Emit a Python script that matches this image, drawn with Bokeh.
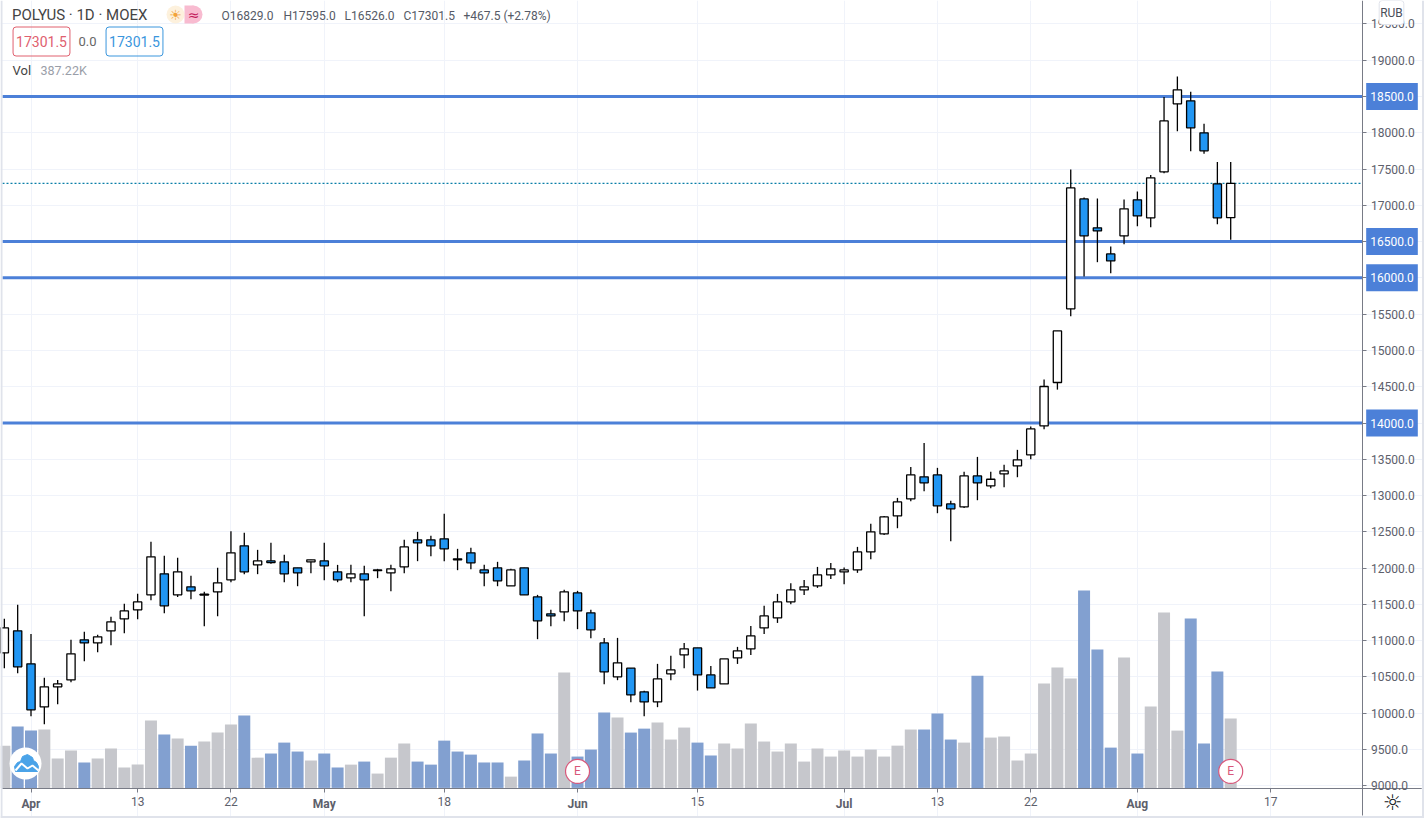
from bokeh.plotting import figure
from bokeh.models import Range1d, FixedTicker, Span, Label, NumeralTickFormatter, LinearAxis
from bokeh.core.properties import value
from bokeh.embed import file_html
from bokeh.resources import INLINE

first_bar = -2
opens = [10833,11136,10681,10088,10364,10460,11012,10970,11136,11301,11425,11632,11921,11632,11742,11627,11673,11839,12307,12045,12100,12087,12004,12087,12100,11949,11866,11921,11967,11935,12018,12390,12390,12404,12128,12211,11976,12004,11756,12004,11604,11370,11398,11659,11384,10970,10502,10621,10295,10157,10543,10805,10901,10529,10405,10763,10887,11176,11314,11535,11700,11755,11907,11948,11976,12224,12472,12720,12954,13258,13285,12885,12844,13271,13134,13299,13409,13561,13960,14558,15573,17088,16689,16330,16579,17075,16827,17461,18398,18439,17998,17295,16829]
highs = [11301,11494,11094,10488,10460,11012,11122,11081,11329,11508,11646,12362,12169,12142,11894,11673,12004,12509,12486,12252,12349,12183,12004,12114,12349,12045,12045,12032,11990,12045,12390,12500,12445,12748,12266,12280,12045,12087,11990,12004,11632,11425,11701,11687,11425,11039,11039,10621,10309,10681,10791,10970,10901,10653,10749,10915,11204,11480,11645,11792,11838,12017,12072,12008,12293,12610,12720,12968,13395,13726,13382,12927,13327,13533,13327,13423,13630,13951,14600,15269,17493,17107,17093,16432,17079,17190,17419,18494,18774,18563,18122,17598,17595]
lows = [10621,10552,9960,9849,10125,10428,10718,10842,10938,11104,11297,11558,11379,11604,11572,11200,11338,11806,11917,11917,12059,11806,11751,11931,11834,11806,11806,11338,11862,11682,11931,12096,12165,12096,11972,11986,11751,11751,11756,11632,11021,11200,11269,11159,11035,10401,10456,10153,9960,10084,10456,10621,10313,10350,10405,10680,10804,11094,11245,11503,11631,11728,11852,11778,11935,12123,12458,12550,12922,13060,12757,12371,12830,12936,13101,13115,13253,13501,13915,14460,15471,16018,16216,16064,16464,16712,16698,17442,18021,17745,17709,16739,16526]
closes = [11177,10640,10047,10364,10405,10819,10970,11053,11260,11411,11535,12156,11480,11949,11687,11641,11797,12211,11949,12100,12077,11921,11935,12114,12032,11839,11921,11839,11976,11990,12293,12349,12307,12266,12114,12073,11935,11825,11976,11632,11274,11342,11673,11411,11150,10571,10695,10254,10157,10474,10598,10888,10529,10350,10749,10860,11066,11342,11535,11700,11742,11907,11990,11976,12224,12500,12706,12913,13285,13175,12858,12817,13271,13175,13225,13340,13492,13919,14503,15269,17240,16579,16647,16234,16951,16854,17378,18163,18591,18067,17750,16827,17301.5]
volumes_k = [236,343,320,326,164,209,142,164,220,114,130,376,298,276,236,259,309,354,404,169,192,253,203,153,192,114,130,147,80,169,248,147,130,264,203,186,142,142,63,153,304,192,644,175,214,421,393,309,331,365,270,337,253,181,248,220,359,259,203,248,147,220,175,209,175,214,175,236,326,326,415,270,253,627,281,287,153,192,583,672,611,1102,773,225,728,192,454,979,320,946,248,650,387.22]

day_ticks = [8, 15, 31, 50, 68, 75, 93]
day_names = ["13", "22", "18", "15", "13", "22", "17"]
month_ticks = [0, 22, 41, 61, 83]
month_names = ["Apr", "May", "Jun", "Jul", "Aug"]
price_ticks = [9000 + 500 * k for k in range(22)]
levels = [18500, 16500, 16000, 14000]
last_price = 17301.5
earnings_bars = [41, 90]
earnings_price = [9200, 9200]

WIDTH, HEIGHT = 1424, 818
PX_PER_BAR, PX_BAR0 = 13.33, 30.5
PX_PER_PRICE, PX_14000 = 1 / 13.78, 422.5
PX_VOL0, K_PER_PX = 787.4, 5.585


def X(px):
    return (px - PX_BAR0) / PX_PER_BAR


def Y(py):
    return 14000 + (PX_14000 - py) / PX_PER_PRICE


bars = list(range(first_bar, first_bar + len(opens)))
up = [c >= o for o, c in zip(opens, closes)]
AXIS_X, AXIS_Y = 1361.5, 787.5

p = figure(width=WIDTH, height=HEIGHT, output_backend="svg", toolbar_location=None,
           x_range=Range1d(X(0), X(WIDTH)), y_range=Range1d(Y(HEIGHT), Y(0)),
           y_axis_location="right", min_border_left=0, min_border_right=0,
           min_border_top=0, min_border_bottom=0, margin=0,
           background_fill_color="white", border_fill_color="white", outline_line_color=None)
p.extra_y_ranges = {"vol": Range1d(-(HEIGHT - PX_VOL0) * K_PER_PX, PX_VOL0 * K_PER_PX)}

AX = "#787b86"
FONT = "Roboto"
p.xaxis.ticker = FixedTicker(ticks=day_ticks)
p.xaxis.major_label_overrides = dict(zip(day_ticks, day_names))
p.yaxis.ticker = FixedTicker(ticks=price_ticks)
p.yaxis.formatter = NumeralTickFormatter(format="0.0")
p.xaxis.fixed_location = Y(AXIS_Y)
p.yaxis.fixed_location = X(AXIS_X)
p.xaxis.bounds = (X(2), X(1421))
p.yaxis.bounds = (Y(815), Y(0))
month_axis = LinearAxis(ticker=FixedTicker(ticks=month_ticks), major_label_overrides=dict(zip(month_ticks, month_names)),
                        fixed_location=Y(AXIS_Y), bounds=(X(2), X(1421)), major_label_text_font_style="bold")
p.add_layout(month_axis, "below")
for ax in (p.xaxis[0], p.yaxis[0], month_axis):
    ax.axis_line_color = AX
    ax.major_tick_line_color = AX
    ax.major_tick_out = 4
    ax.major_tick_in = 0
    ax.minor_tick_line_color = None
    ax.major_label_text_color = "#5d606b"
    ax.major_label_text_font = FONT
    ax.major_label_text_font_size = "12px"
    ax.major_label_standoff = 5
grid_ticks = sorted(day_ticks + month_ticks)
p.xgrid.ticker = FixedTicker(ticks=grid_ticks)
p.ygrid.ticker = FixedTicker(ticks=price_ticks)
p.xgrid.grid_line_color = "#f0f3fa"
p.ygrid.grid_line_color = "#f0f3fa"
p.xgrid.bounds = (Y(AXIS_Y), Y(0))
p.ygrid.bounds = (X(2), X(AXIS_X))

vol_colors = ["#c6c7cc" if u else "#82a0d0" for u in up]
p.vbar(x=bars, top=volumes_k, bottom=0, width=0.9, color=vol_colors, line_color=None, y_range_name="vol")

p.segment(x0=[X(2)] * len(levels), x1=[X(AXIS_X)] * len(levels), y0=levels, y1=levels, color="#4c80d8", line_width=3)
p.segment(x0=[X(2)], x1=[X(AXIS_X)], y0=[last_price], y1=[last_price], color="#0a7fa8", line_width=1.2, line_dash="2 2")

p.segment(x0=bars, x1=bars, y0=lows, y1=highs, color="black", line_width=1.3)
p.vbar(x=bars, top=[max(o, c) for o, c in zip(opens, closes)], bottom=[min(o, c) for o, c in zip(opens, closes)],
       width=0.62, fill_color=["white" if u else "#2196f3" for u in up], line_color="black", line_width=1.3)

p.scatter(x=earnings_bars, y=earnings_price, size=24, marker="circle", fill_color="white", line_color="#d9577a", line_width=1.2)
p.text(x=earnings_bars, y=earnings_price, text=["E", "E"], text_color="#d9577a", text_align="center", text_baseline="middle",
       text_font=value(FONT), text_font_size="12px")

for px in (1, 1422.5):
    p.add_layout(Span(location=X(px), dimension="height", line_color="#e0e3eb", line_width=2))
p.add_layout(Span(location=Y(816.5), dimension="width", line_color="#e0e3eb", line_width=2))

# sun / session badge
p.quad(left=[X(184)], right=[X(193)], top=[Y(5)], bottom=[Y(23)], fill_color="#f8bbd0", line_color=None)
p.scatter(x=[X(193), X(175)], y=[Y(14), Y(14)], size=18, marker="circle", fill_color=["#f8bbd0", "#fdf1dd"], line_color=None)

# logo badge
cloud_px = [15, 14, 17, 20, 22, 27, 32, 33, 36, 38, 37]
cloud_py = [771, 766, 762, 761, 756, 754, 757, 760, 762, 766, 771]
wave_px = [15, 21, 27, 32, 38]
wave_py = [770, 763, 768, 765, 770]
p.scatter(x=[X(25)], y=[Y(763)], size=32, marker="circle", fill_color="white", line_color=None)
p.patch(x=[X(v) for v in cloud_px], y=[Y(v) for v in cloud_py], fill_color="#4aa3e8", line_color="#4aa3e8")
p.line(x=[X(v) for v in wave_px], y=[Y(v) for v in wave_py], line_color="white", line_width=2)


def lab(text, x, y, color="#555a66", size=12, align="left", font=FONT, **kw):
    lb = Label(x=x, y=y, x_units="canvas", y_units="canvas", text=text, text_color=color,
               text_font=font, text_font_size=f"{size}px", text_align=align,
               text_baseline="middle", **kw)
    p.add_layout(lb)
    return lb


lab("POLYUS · 1D · MOEX", 11.5, 14, "#444", 15)
lab("☀", 175, 14, "#f2a33a", 14, "center", font="DejaVu Sans")
lab("≈", 193, 14, "#c2185b", 14, "center", font="DejaVu Sans")
for s, x in zip(["O16829.0", "H17595.0", "L16526.0", "C17301.5", "+467.5 (+2.78%)"], [221, 283, 344, 403, 463]):
    lab(s, x, 15, "#555a66", 12)
lab("17301.5", 41, 41, "#e0606f", 14, "center", border_line_color="#e0606f", border_radius=3, padding=(3, 9))
lab("0.0", 87, 41, "#666", 13, "center")
lab("17301.5", 134, 41, "#3a96dd", 14, "center", border_line_color="#3a96dd", border_radius=3, padding=(3, 9))
lab("Vol", 12, 70, "#444", 13)
lab("387.22K", 40, 70, "#9a9ea8", 12.5)
lab("RUB", 1391, 12, "#4a4e59", 12, "center", border_line_color="#e0e3eb", border_radius=3, background_fill_color="white", padding=(1, 5))

for lv in levels:
    y = PX_14000 - (lv - 14000) * PX_PER_PRICE
    lab(f"{lv:.1f}", 1391.5, y, "white", 12, "center", background_fill_color="#4c80d8", padding=(4, 9))
lab("☼", 1392, 802, "#131722", 22, "center", font="DejaVu Sans")

open("out.html", "w").write(file_html(p, INLINE))
